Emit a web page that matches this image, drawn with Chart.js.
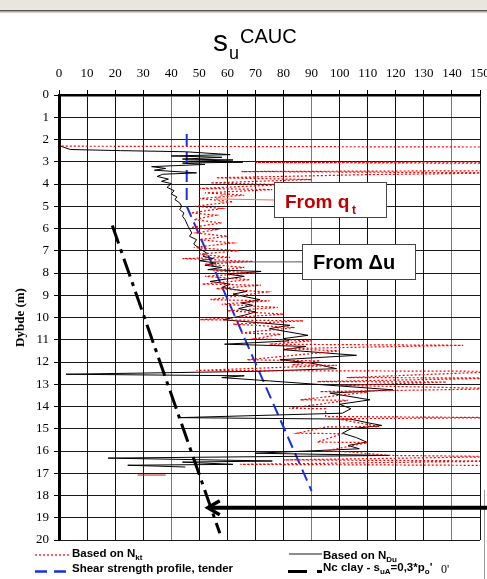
<!DOCTYPE html>
<html lang="no">
<head>
<meta charset="UTF-8" />
<title>su CAUC</title>
<style>
  body { margin: 0; padding: 0; background: #fff; }
  #chart { display: block; }
</style>
</head>
<body>
<canvas id="chart" width="487" height="579"></canvas>
<script src="https://cdn.jsdelivr.net/npm/chart.js"></script>
<script>
  // akser
  const suMin = 0, suMax = 150, suStep = 10;
  const depthMin = 0, depthMax = 20, depthStep = 1;

  // Based on N_kt (rød prikket) - verdier over 150 går ut av plottet
  const nktSu = [1, 160, 160, 70, 160, 160, 65, 160, 110, 56, 90, 54, 80, 50, 76, 52, 66, 50, 62, 48.5,
    58, 47, 56, 48, 58, 47, 56, 49, 60, 50, 62, 48, 64, 50, 61, 44, 69, 52, 66, 55,
    70, 52, 68, 51, 72, 56, 74, 54, 75, 58, 78, 60, 80, 50, 87, 62, 84, 64.5, 79, 70,
    90, 75, 144, 80, 100, 67, 93, 83, 99, 49, 160, 102.5, 160, 92, 138, 100, 160, 93, 110, 86,
    103, 82, 95, 95, 160, 99, 114, 95, 85, 101, 92, 110, 95, 104, 118, 160, 80, 160, 64.6, 160];
  const nktDepth = [2.30, 2.34, 3.00, 3.03, 3.07, 3.40, 3.44, 3.50, 3.58, 3.72, 3.80, 3.95, 4.03, 4.20, 4.25, 4.40, 4.50, 4.65, 4.80, 5.00,
    5.10, 5.30, 5.40, 5.60, 5.75, 5.95, 6.05, 6.20, 6.35, 6.50, 6.65, 6.85, 7.00, 7.15, 7.30, 7.35, 7.48, 7.60, 7.75, 7.90,
    8.00, 8.15, 8.30, 8.50, 8.55, 8.70, 8.85, 9.20, 9.25, 9.40, 9.55, 9.70, 9.85, 10.10, 10.15, 10.30, 10.45, 10.70, 10.75, 10.95,
    11.05, 11.20, 11.25, 11.40, 11.50, 11.90, 11.95, 12.13, 12.15, 12.38, 12.42, 12.70, 12.72, 12.88, 12.90, 13.05, 13.20, 13.33, 13.35, 13.70,
    13.72, 14.08, 14.10, 14.45, 14.50, 14.55, 14.90, 14.92, 15.20, 15.22, 15.60, 15.62, 16.00, 16.05, 16.20, 16.25, 16.40, 16.45, 16.60, 16.65];
  const nktTailSu = [28, 38];
  const nktTailDepth = [17.08, 17.08];

  // Based on N_Du (svart)
  const nduSu = [0, 4, 22, 45, 61, 40, 58, 44, 62, 46, 65.5, 44, 52, 33, 38, 34, 49, 37, 35, 39,
    36.5, 40, 38.5, 41, 40, 42, 41.3, 43, 43.7, 43, 44.5, 44, 44.9, 46, 47.3, 46.5, 49, 48, 50, 52.6,
    51.3, 55, 50, 56, 52, 58, 53, 72, 60, 66, 53.8, 61, 58, 66.9, 62, 71.6, 65, 69, 64, 70,
    66, 58.4, 82.3, 75, 88.7, 80, 82, 59, 88, 80, 106, 78.7, 90, 98.9, 70, 2.5, 66, 58, 75, 119,
    96.5, 110.8, 100, 104, 101, 43, 104, 110.8, 115, 104, 101, 106, 109.6, 103, 107, 70, 117.9, 17.5, 76, 44,
    62, 24.5, 35, 45];
  const nduDepth = [2.27, 2.45, 2.50, 2.55, 2.68, 2.74, 2.80, 2.88, 2.92, 2.98, 3.02, 3.06, 3.12, 3.22, 3.30, 3.38, 3.50, 3.56, 3.66, 3.78,
    3.88, 3.98, 4.15, 4.30, 4.45, 4.58, 4.70, 4.85, 5.00, 5.15, 5.30, 5.45, 5.60, 5.90, 6.20, 6.35, 6.50, 6.70, 6.90, 7.10,
    7.25, 7.35, 7.45, 7.55, 7.65, 7.75, 7.85, 7.93, 8.05, 8.15, 8.38, 8.50, 8.65, 8.83, 8.95, 9.20, 9.35, 9.45, 9.60, 9.75,
    9.90, 10.10, 10.35, 10.50, 10.80, 10.95, 11.05, 11.20, 11.30, 11.45, 11.70, 11.90, 12.05, 12.30, 12.42, 12.55, 12.62, 12.70, 12.85, 13.25,
    13.40, 13.70, 13.90, 14.10, 14.30, 14.50, 14.57, 14.75, 14.85, 15.00, 15.20, 15.40, 15.60, 15.75, 15.90, 16.10, 16.20, 16.32, 16.45, 16.50,
    16.60, 16.64, 16.68, 16.72];

  // Shear strength profile, tender (blå stiplet)
  const profileSu = [45.5, 45.5, 90];
  const profileDepth = [1.75, 5.0, 17.8];

  // Nc clay - suA = 0,3*po'
  const ncSu = [19, 57.3];
  const ncDepth = [5.87, 19.7];

  // pil mot Nc-linja
  const arrowDepth = 18.55, arrowTipSu = 53;
  const qtTip = [56, 4.67];
  const duTip = [54, 7.5];

  const pts = (xs, ys) => xs.map((x, i) => ({ x: x, y: ys[i] }));

  const overlay = {
    id: 'overlay',
    beforeDraw(chart) {
      const c = chart.ctx;
      c.save();
      c.fillStyle = '#fff';
      c.fillRect(0, 0, chart.width, chart.height);
      c.fillStyle = '#e9e6df';
      c.fillRect(0, 0, chart.width, 10);
      c.strokeStyle = '#555'; c.lineWidth = 1.5;
      c.beginPath(); c.moveTo(0, 10.75); c.lineTo(chart.width, 10.75); c.stroke();
      c.strokeStyle = '#d4cfc7'; c.lineWidth = 1;
      c.beginPath(); c.moveTo(0, 12.5); c.lineTo(chart.width, 12.5); c.stroke();
      c.strokeStyle = '#999';
      c.beginPath(); c.moveTo(484.5, 490); c.lineTo(484.5, chart.height); c.stroke();
      c.restore();
    },
    afterDraw(chart) {
      const c = chart.ctx;
      const xs = chart.scales.x, ys = chart.scales.y;
      c.save();
      c.fillStyle = '#000';
      c.textBaseline = 'alphabetic';

      // tittel
      c.font = '30px "Liberation Sans", Arial';
      c.fillText('s', 213, 51);
      c.font = '18px "Liberation Sans", Arial';
      c.fillText('u', 229, 59);
      c.font = '20px "Liberation Sans", Arial';
      c.fillText('CAUC', 240, 43);

      // pil ved 18.5 m
      const ay = ys.getPixelForValue(arrowDepth);
      const ax = xs.getPixelForValue(arrowTipSu);
      c.strokeStyle = '#000'; c.lineWidth = 4;
      c.beginPath(); c.moveTo(chart.width, ay); c.lineTo(ax + 2, ay); c.stroke();
      c.lineWidth = 3.5;
      c.beginPath(); c.moveTo(ax + 12, ay - 7); c.lineTo(ax, ay); c.lineTo(ax + 12, ay + 7); c.stroke();

      // From qt
      const qx = xs.getPixelForValue(qtTip[0]), qy = ys.getPixelForValue(qtTip[1]);
      c.strokeStyle = '#e8764f'; c.lineWidth = 1;
      c.beginPath(); c.moveTo(274, 200); c.lineTo(qx, qy); c.stroke();
      c.beginPath(); c.moveTo(qx + 8, qy - 5); c.lineTo(qx, qy); c.lineTo(qx + 8, qy + 5); c.stroke();
      c.fillStyle = '#fff'; c.fillRect(274.5, 182.5, 112, 35);
      c.strokeStyle = '#444'; c.strokeRect(274.5, 182.5, 112, 35);
      c.fillStyle = '#c00000';
      c.font = 'bold 19px "Liberation Sans", Arial';
      c.fillText('From q', 285, 208);
      c.font = 'bold 12px "Liberation Sans", Arial';
      c.fillText('t', 352, 214);

      // From Δu
      const dx = xs.getPixelForValue(duTip[0]), dy = ys.getPixelForValue(duTip[1]);
      c.strokeStyle = '#555'; c.lineWidth = 1;
      c.beginPath(); c.moveTo(302, dy); c.lineTo(dx, dy); c.stroke();
      c.fillStyle = '#fff'; c.fillRect(302.5, 244.5, 113, 35);
      c.strokeStyle = '#444'; c.strokeRect(302.5, 244.5, 113, 35);
      c.fillStyle = '#000';
      c.font = 'bold 20px "Liberation Sans", Arial';
      c.fillText('From \u0394u', 313, 269);

      // forklaring
      c.lineWidth = 1.2; c.strokeStyle = '#ff0000'; c.setLineDash([2, 2]);
      c.beginPath(); c.moveTo(35, 555); c.lineTo(70, 555); c.stroke();
      c.setLineDash([]);
      c.strokeStyle = '#666'; c.lineWidth = 1.5;
      c.beginPath(); c.moveTo(289, 554); c.lineTo(322, 554); c.stroke();
      c.strokeStyle = '#1a2fe0'; c.lineWidth = 2.5;
      c.beginPath(); c.moveTo(35, 571.5); c.lineTo(47, 571.5); c.moveTo(54, 571.5); c.lineTo(66, 571.5); c.stroke();
      c.strokeStyle = '#000'; c.lineWidth = 3;
      c.beginPath(); c.moveTo(288, 571.5); c.lineTo(307, 571.5); c.moveTo(317, 571.5); c.lineTo(322, 571.5); c.stroke();

      const big = 'bold 11.5px "Liberation Sans", Arial';
      const small = 'bold 8px "Liberation Sans", Arial';
      const rich = (parts, x, y) => {
        parts.forEach(p => {
          c.font = p[1];
          c.fillText(p[0], x, y + p[2]);
          x += c.measureText(p[0]).width;
        });
      };
      c.fillStyle = '#000';
      rich([['Based on N', big, 0], ['kt', small, 3]], 72, 557);
      rich([['Based on N', big, 0], ['Du', small, 3]], 323, 559);
      rich([['Shear strength profile, tender', big, 0]], 72, 572);
      rich([['Nc clay - s', big, 0], ['uA', small, 3], ['=0,3*p', big, 0], ['o', small, 3], ['\'', big, 0]], 323, 571);
      c.font = '12px "Liberation Serif", serif';
      c.fillText('0\'', 441, 573);
      c.restore();
    }
  };

  const gridColor = ctx => {
    const v = ctx.tick ? ctx.tick.value : 0;
    return [40, 90, 140].includes(v) ? '#7a7a7a' : '#111';
  };

  new Chart(document.getElementById('chart'), {
    type: 'scatter',
    data: {
      datasets: [
        { label: 'Based on Nkt', data: pts(nktSu, nktDepth), showLine: true, pointRadius: 0,
          borderColor: '#ff0000', borderWidth: 1.2, borderDash: [2, 2] },
        { label: 'Based on NDu', data: pts(nduSu, nduDepth), showLine: true, pointRadius: 0,
          borderColor: '#000', borderWidth: 1 },
        { label: 'Nkt tail', data: pts(nktTailSu, nktTailDepth), showLine: true, pointRadius: 0,
          borderColor: '#b02020', borderWidth: 1 },
        { label: 'Shear strength profile, tender', data: pts(profileSu, profileDepth), showLine: true, pointRadius: 0,
          borderColor: '#1a2fe0', borderWidth: 2, borderDash: [12, 6] },
        { label: 'Nc clay', data: pts(ncSu, ncDepth), showLine: true, pointRadius: 0,
          borderColor: '#000', borderWidth: 3, borderDash: [19, 6, 4, 6] }
      ]
    },
    options: {
      responsive: false,
      animation: false,
      layout: { padding: { left: 0, top: 0, right: 7, bottom: 39 } },
      plugins: { legend: { display: false }, tooltip: { enabled: false } },
      scales: {
        x: {
          type: 'linear', position: 'top', min: suMin, max: suMax,
          afterFit: s => { s.height = 95; s.paddingLeft = 0; s.paddingRight = 0; },
          ticks: { stepSize: suStep, color: '#000', padding: 9, maxRotation: 0,
            font: { family: '"Liberation Serif", serif', size: 13 } },
          grid: { color: gridColor, tickColor: '#000', lineWidth: 1, tickLength: 5 },
          border: { display: true, color: '#000', width: 2.5 }
        },
        y: {
          type: 'linear', reverse: true, min: depthMin, max: depthMax,
          afterFit: s => { s.width = 59; },
          ticks: { stepSize: depthStep, color: '#000', padding: 5,
            font: { family: '"Liberation Serif", serif', size: 13 } },
          grid: { color: '#1a1a1a', tickColor: '#000', lineWidth: 1, tickLength: 5 },
          border: { display: true, color: '#000', width: 3 },
          title: { display: true, text: 'Dybde (m)', color: '#000', padding: 13,
            font: { family: '"Liberation Serif", serif', size: 13, weight: 'bold' } }
        }
      }
    },
    plugins: [overlay]
  });
</script>
</body>
</html>
